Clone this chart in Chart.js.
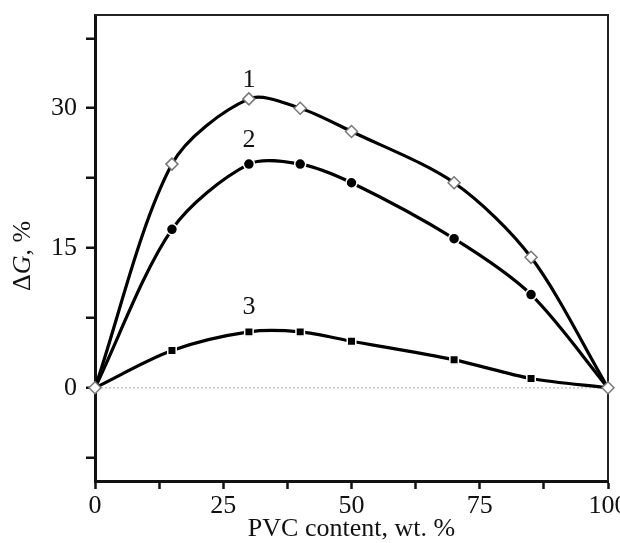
<!DOCTYPE html>
<html lang="en">
<head>
  <meta charset="UTF-8" />
  <title>ΔG vs PVC content</title>
  <!-- Chart.js -->
  <script src="https://cdn.jsdelivr.net/npm/chart.js"></script>
  <style>
    html, body { margin: 0; padding: 0; background: #fff; }
    #wrap { width: 620px; height: 543px; }
  </style>
</head>
<body>
  <div id="wrap"><canvas id="chart"></canvas></div>

  <script>
    // data
    const pvcContent = [0, 15, 30, 40, 50, 70, 85, 100];
    const curve1 = [0, 24, 31, 30, 27.5, 22, 14, 0];
    const curve2 = [0, 17, 24, 24, 22, 16, 10, 0];
    const curve3 = [0, 4, 6, 6, 5, 3, 1, 0];

    const xTicks = [0, 12.5, 25, 37.5, 50, 62.5, 75, 87.5, 100];
    const xLabels = [0, 25, 50, 75, 100];
    const yTicks = [-7.5, 0, 7.5, 15, 22.5, 30, 37.5];
    const yLabels = [0, 15, 30];

    const curveNames = ["1", "2", "3"];
    const nameAtX = [30, 30, 30];
    const nameAtY = [33.0, 26.6, 8.6];

    const serif = "'Liberation Serif', 'Times New Roman', serif";
    const toPoints = ys => pvcContent.map((x, i) => ({ x: x, y: ys[i] }));
    const innerOnly = r => ctx => (ctx.dataIndex === 0 || ctx.dataIndex === pvcContent.length - 1) ? 0 : r;

    const decorations = {
      id: "decorations",
      beforeDatasetsDraw(chart) {
        const { ctx, chartArea: a } = chart;
        ctx.save();
        ctx.strokeStyle = "#222";
        ctx.lineWidth = 2;
        ctx.beginPath();
        ctx.moveTo(a.left, a.top);
        ctx.lineTo(a.right, a.top);
        ctx.lineTo(a.right, a.bottom);
        ctx.stroke();
        ctx.restore();
      },
      afterDraw(chart) {
        const { ctx, scales } = chart;
        ctx.save();
        ctx.fillStyle = "#111";
        ctx.font = "26px " + serif;
        ctx.textAlign = "center";
        ctx.textBaseline = "middle";
        curveNames.forEach((t, i) => {
          ctx.fillText(t, scales.x.getPixelForValue(nameAtX[i]), scales.y.getPixelForValue(nameAtY[i]));
        });

        // y title: ΔG, %  (G in italics)
        const parts = [["Δ", ""], ["G", "italic "], [", %", ""]];
        let total = 0;
        parts.forEach(p => { ctx.font = p[1] + "26px " + serif; total += ctx.measureText(p[0]).width; });
        ctx.translate(23, 256);
        ctx.rotate(-Math.PI / 2);
        ctx.textAlign = "left";
        let x = -total / 2;
        parts.forEach(p => {
          ctx.font = p[1] + "26px " + serif;
          ctx.fillText(p[0], x, 0);
          x += ctx.measureText(p[0]).width;
        });
        ctx.restore();
      }
    };

    new Chart(document.getElementById("chart"), {
      type: "scatter",
      data: {
        datasets: [
          {
            label: "1",
            data: toPoints(curve1),
            showLine: true,
            borderColor: "#000",
            borderWidth: 3.2,
            tension: 0.3,
            pointStyle: "rectRot",
            pointRadius: 6,
            pointBackgroundColor: "#fff",
            pointBorderColor: "#777",
            pointBorderWidth: 1.5,
            clip: false
          },
          {
            label: "2",
            data: toPoints(curve2),
            showLine: true,
            borderColor: "#000",
            borderWidth: 3.2,
            tension: 0.3,
            pointStyle: "circle",
            pointRadius: innerOnly(5.5),
            pointBackgroundColor: "#000",
            pointBorderColor: "#fff",
            pointBorderWidth: 1.5,
            clip: false
          },
          {
            label: "3",
            data: toPoints(curve3),
            showLine: true,
            borderColor: "#000",
            borderWidth: 3.2,
            tension: 0.3,
            pointStyle: "rect",
            pointRadius: innerOnly(6),
            pointBackgroundColor: "#000",
            pointBorderColor: "#fff",
            pointBorderWidth: 1.5,
            clip: false
          }
        ]
      },
      options: {
        responsive: true,
        maintainAspectRatio: false,
        animation: false,
        layout: { padding: { left: 0, right: 12, top: 15, bottom: 0 } },
        plugins: { legend: { display: false }, tooltip: { enabled: false } },
        scales: {
          x: {
            type: "linear",
            min: 0,
            max: 100,
            afterBuildTicks: s => { s.ticks = xTicks.map(v => ({ value: v })); },
            afterFit: s => { s.height = 62; s.paddingLeft = 0; s.paddingRight = 0; },
            ticks: {
              color: "#111",
              font: { family: serif, size: 26 },
              padding: 2,
              maxRotation: 0,
              autoSkip: false,
              callback: v => xLabels.includes(v) ? String(v) : ""
            },
            grid: { drawOnChartArea: false, tickLength: 8, tickColor: "#111", tickWidth: 2.5 },
            border: { color: "#111", width: 3 },
            title: {
              display: true,
              text: "PVC content, wt. %",
              color: "#111",
              font: { family: serif, size: 26 },
              padding: { top: 0, bottom: -2 }
            }
          },
          y: {
            type: "linear",
            min: -10,
            max: 40,
            afterBuildTicks: s => { s.ticks = yTicks.map(v => ({ value: v })); },
            afterFit: s => { s.width = 95; s.paddingTop = 0; s.paddingBottom = 0; },
            ticks: {
              color: "#111",
              font: { family: serif, size: 26 },
              padding: 9,
              autoSkip: false,
              callback: v => yLabels.includes(v) ? String(v) : ""
            },
            grid: {
              drawOnChartArea: true,
              color: c => (c.tick && c.tick.value === 0) ? "#c8c8c8" : "rgba(0,0,0,0)",
              lineWidth: 1.5,
              tickLength: 9,
              tickColor: "#111",
              tickWidth: 2.5
            },
            border: { color: "#111", width: 3, dash: [2, 2] }
          }
        }
      },
      plugins: [decorations]
    });
  </script>
</body>
</html>
